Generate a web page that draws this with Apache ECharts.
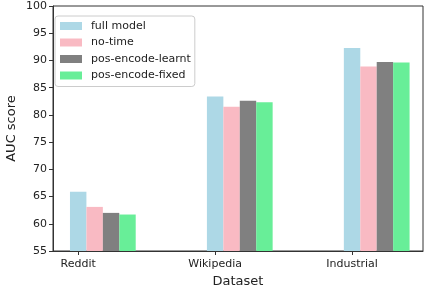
<!DOCTYPE html>
<html>
<head>
<meta charset="utf-8">
<style>
  html, body { margin: 0; padding: 0; background: #fff; }
  #main { width: 424px; height: 289px; }
</style>
<script src="https://cdn.jsdelivr.net/npm/echarts@6/dist/echarts.min.js"></script>
</head>
<body>
<div id="main"></div>
<script>
// datasets (category tick labels)
var datasets = ['Reddit', 'Wikipedia', 'Industrial']
// AUC score per model, one value per dataset
var fullModel = [65.9, 83.4, 92.3]
var noTime = [63.1, 81.5, 88.9]
var posLearnt = [62.0, 82.6, 89.7]
var posFixed = [61.7, 82.3, 89.6]
var yTicks = [55, 60, 65, 70, 75, 80, 85, 90, 95, 100]

var FONT = 'DejaVu Sans'
var BAR_W = 0.12 // bar width in x units, like width=0.12 in the source plot
var Y_MIN = yTicks[0]
var positions = datasets.map(function (d, i) { return i })

var myChart = echarts.init(document.getElementById('main'))

// bar k of each group sits at tick + k * BAR_W (tick is the first bar's centre)
function barSeries (name, color, vals, k) {
  return {
    name: name,
    type: 'custom',
    itemStyle: { color: color },
    encode: { x: 0, y: 1 },
    data: vals.map(function (v, i) { return [i, v] }),
    renderItem: function (params, api) {
      var cx = api.value(0) + k * BAR_W
      var p0 = api.coord([cx - BAR_W / 2, api.value(1)])
      var p1 = api.coord([cx + BAR_W / 2, Y_MIN])
      return {
        type: 'rect',
        shape: { x: p0[0], y: p0[1], width: p1[0] - p0[0], height: p1[1] - p0[1] },
        style: { fill: api.visual('color') }
      }
    }
  }
}

myChart.setOption({
  animation: false,
  grid: {
    left: 53,
    right: 1,
    top: 6,
    bottom: 38,
    containLabel: false,
    outerBoundsMode: 'none',
    show: true,
    borderColor: '#333',
    borderWidth: 1
  },
  legend: {
    orient: 'vertical',
    left: 55,
    top: 16,
    padding: [3, 4, 4, 5],
    itemWidth: 22,
    itemHeight: 8,
    itemGap: 2.5,
    borderColor: '#cccccc',
    borderWidth: 1,
    borderRadius: 3,
    backgroundColor: 'rgba(255,255,255,0.85)',
    icon: 'rect',
    textStyle: {
      fontFamily: FONT,
      fontSize: 11,
      lineHeight: 14,
      color: '#222',
      padding: [0, 0, 0, 4]
    }
  },
  xAxis: {
    type: 'value',
    min: -0.184,
    max: 2.518,
    name: 'Dataset',
    nameLocation: 'middle',
    nameGap: 24,
    nameMoveOverlap: false,
    nameTextStyle: { fontFamily: FONT, fontSize: 13, color: '#222' },
    axisLine: { show: true, onZero: false, lineStyle: { color: '#333' } },
    axisTick: { show: true, customValues: positions, length: 4, lineStyle: { color: '#333' } },
    axisLabel: {
      customValues: positions,
      formatter: function (v) { return datasets[Math.round(v)] },
      fontFamily: FONT,
      fontSize: 11,
      color: '#222',
      margin: 8
    },
    splitLine: { show: false }
  },
  yAxis: {
    type: 'value',
    min: Y_MIN,
    max: yTicks[yTicks.length - 1],
    interval: 5,
    name: 'AUC score',
    nameLocation: 'middle',
    nameGap: 35,
    nameMoveOverlap: false,
    nameTextStyle: { fontFamily: FONT, fontSize: 13, color: '#222' },
    axisLine: { show: true, onZero: false, lineStyle: { color: '#333' } },
    axisTick: { show: true, length: 4, lineStyle: { color: '#333' } },
    axisLabel: { fontFamily: FONT, fontSize: 11, color: '#222', margin: 6 },
    splitLine: { show: false }
  },
  series: [
    barSeries('full model', '#add8e6', fullModel, 0),
    barSeries('no-time', '#f9bac3', noTime, 1),
    barSeries('pos-encode-learnt', '#808080', posLearnt, 2),
    barSeries('pos-encode-fixed', '#68ee98', posFixed, 3)
  ]
})
</script>
</body>
</html>
